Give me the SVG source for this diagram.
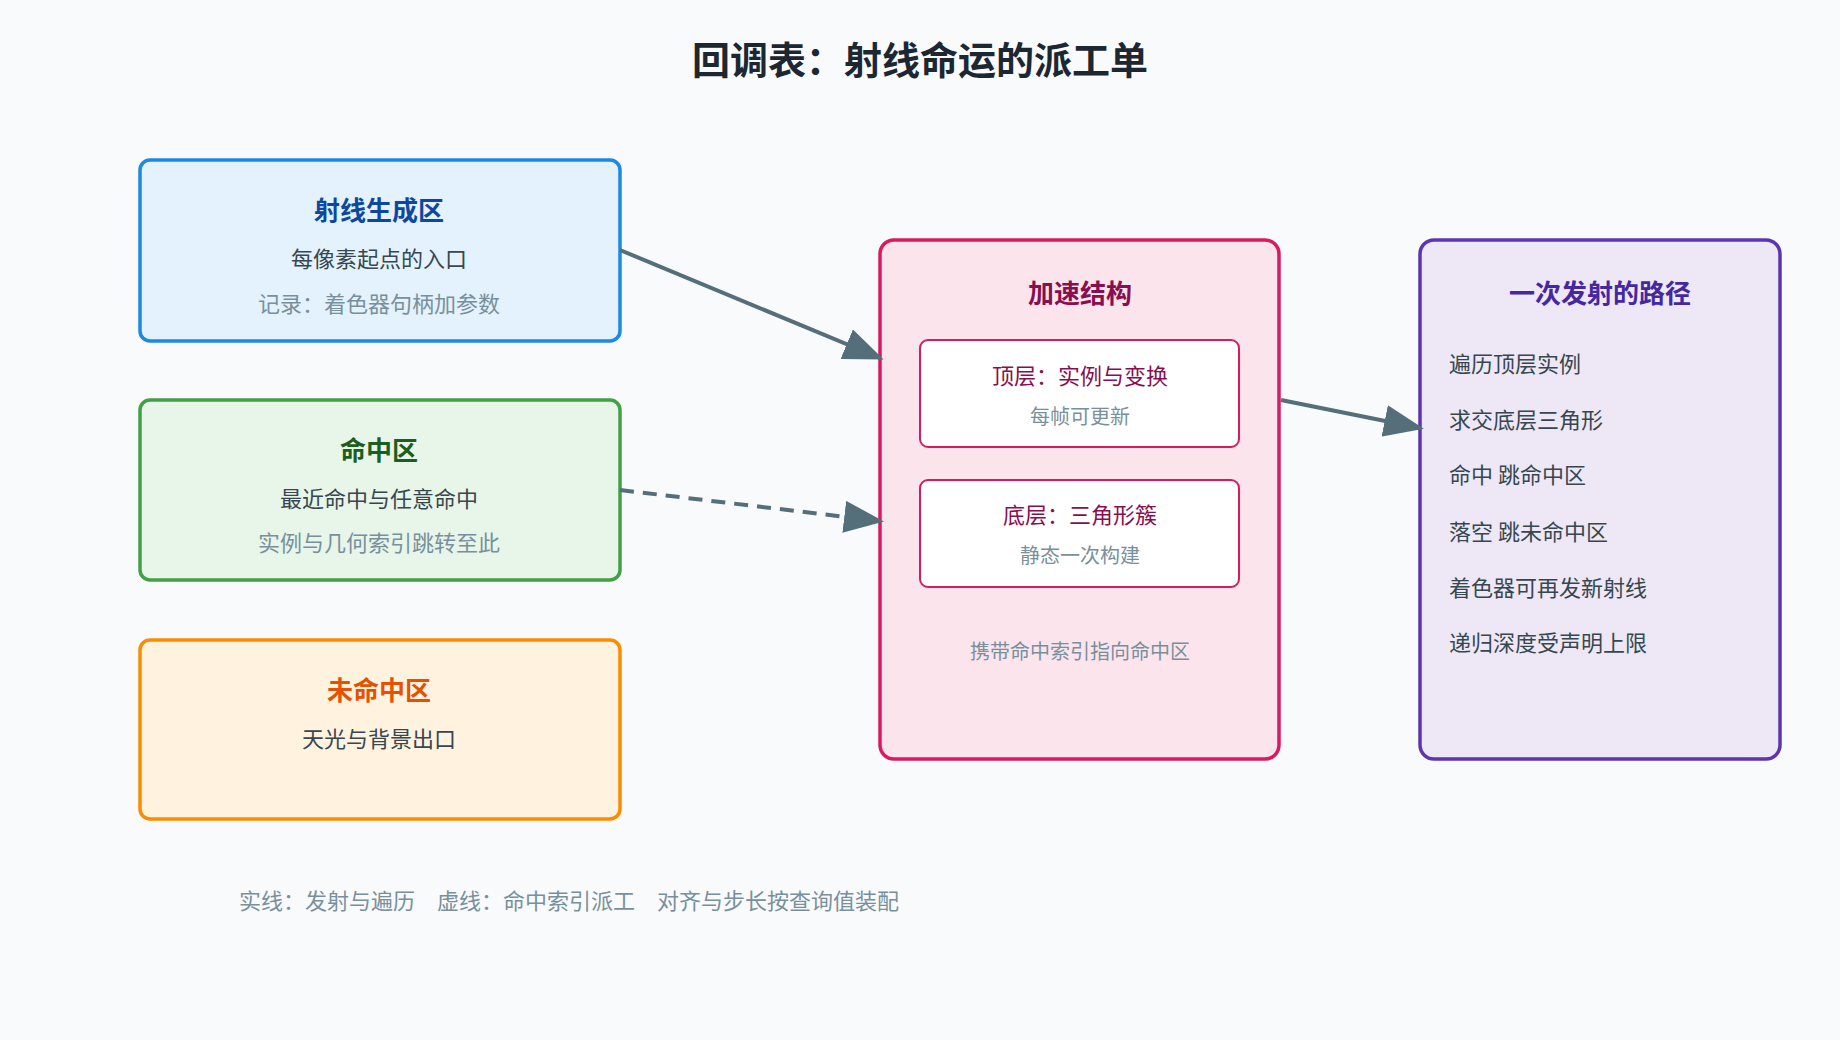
<svg xmlns="http://www.w3.org/2000/svg" width="1840" height="1040" viewBox="0 0 1840 1040">
<style>
text{font-family:"Noto Sans CJK SC","Noto Sans",sans-serif;text-anchor:middle}
.t{font-size:26px;font-weight:bold}
.s{font-size:22px;fill:#37474f}
.g{font-size:22px;fill:#78909c}
.l{font-size:22px;fill:#37474f;text-anchor:start}
.c{stroke:#546e7a;stroke-width:4;fill:none}
</style>
<defs>
<marker id="ah" markerWidth="10" markerHeight="8" refX="9" refY="4" orient="auto" markerUnits="strokeWidth" viewBox="0 0 10 8">
<path d="M0,0 L10,4 L0,8 z" fill="#546e7a"/>
</marker>
</defs>
<rect width="1840" height="1040" fill="#f8fafc"/>
<text x="920" y="74" style="font-size:38px;font-weight:bold;fill:#1c2731">回调表：射线命运的派工单</text>
<g id="raygen">
<rect x="140" y="160" width="480" height="181" rx="10" fill="#e3f2fd" stroke="#1e88e5" stroke-width="3.5"/>
<text x="379" y="220" class="t" fill="#0d47a1">射线生成区</text>
<text x="379" y="267" class="s">每像素起点的入口</text>
<text x="379" y="312" class="g">记录：着色器句柄加参数</text>
</g>
<g id="hit">
<rect x="140" y="400" width="480" height="180" rx="10" fill="#e8f5e9" stroke="#43a047" stroke-width="3.5"/>
<text x="379" y="460" class="t" fill="#1b5e20">命中区</text>
<text x="379" y="507" class="s">最近命中与任意命中</text>
<text x="379" y="551" class="g">实例与几何索引跳转至此</text>
</g>
<g id="miss">
<rect x="140" y="640" width="480" height="179" rx="10" fill="#fff3e0" stroke="#fb8c00" stroke-width="3.5"/>
<text x="379" y="700" class="t" fill="#e65100">未命中区</text>
<text x="379" y="747" class="s">天光与背景出口</text>
</g>
<g id="accel">
<rect x="880" y="240" width="399" height="519" rx="14" fill="#fce4ec" stroke="#d81b60" stroke-width="3.5"/>
<text x="1080" y="303" class="t" fill="#880e4f">加速结构</text>
<rect x="920" y="340" width="319" height="107" rx="8" fill="#ffffff" stroke="#d81b60" stroke-width="2"/>
<text x="1080" y="384" class="s" fill="#880e4f" style="fill:#880e4f">顶层：实例与变换</text>
<text x="1080" y="424" class="g" style="font-size:20px">每帧可更新</text>
<rect x="920" y="480" width="319" height="107" rx="8" fill="#ffffff" stroke="#d81b60" stroke-width="2"/>
<text x="1080" y="523" class="s" style="fill:#880e4f">底层：三角形簇</text>
<text x="1080" y="563" class="g" style="font-size:20px">静态一次构建</text>
<text x="1080" y="659" class="g" style="font-size:20px">携带命中索引指向命中区</text>
</g>
<g id="path">
<rect x="1420" y="240" width="360" height="519" rx="14" fill="#ede7f6" stroke="#5e35b1" stroke-width="3.5"/>
<text x="1600" y="303" class="t" fill="#4527a0">一次发射的路径</text>
<text x="1449" y="372" class="l">遍历顶层实例</text>
<text x="1449" y="428" class="l">求交底层三角形</text>
<text x="1449" y="483" class="l">命中 跳命中区</text>
<text x="1449" y="540" class="l">落空 跳未命中区</text>
<text x="1449" y="596" class="l">着色器可再发新射线</text>
<text x="1449" y="651" class="l">递归深度受声明上限</text>
</g>
<g id="connectors">
<line class="c" x1="620" y1="250" x2="880" y2="358" marker-end="url(#ah)"/>
<line class="c" x1="620" y1="490" x2="880" y2="521" stroke-dasharray="14,9" marker-end="url(#ah)"/>
<line class="c" x1="1281" y1="400" x2="1420" y2="428" marker-end="url(#ah)"/>
</g>
<text x="239" y="909" class="g" style="text-anchor:start">实线：发射与遍历　虚线：命中索引派工　对齐与步长按查询值装配</text>
</svg>
